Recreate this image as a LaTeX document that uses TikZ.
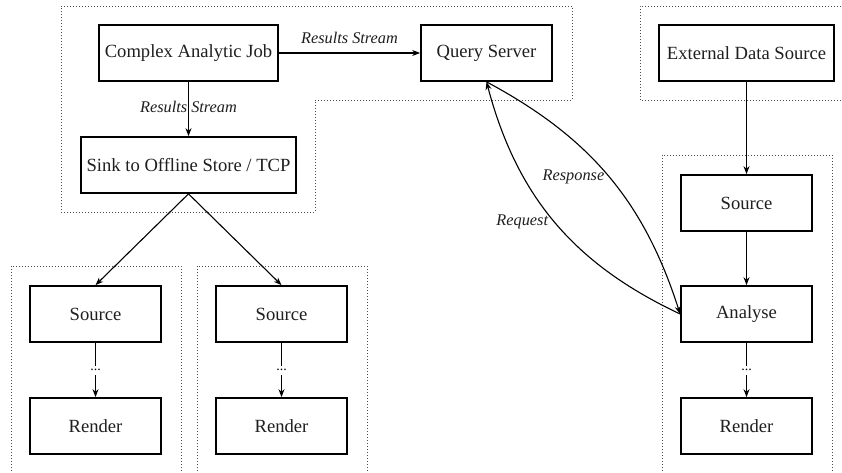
\documentclass[tikz,border=0pt]{standalone}
\usepackage{fontspec}
\setmainfont{Liberation Serif}
\newfontfamily\diagfont{Liberation Serif}
\usetikzlibrary{arrows.meta}
\begin{document}
\begin{tikzpicture}[x=1pt,y=-1pt,
  box/.style={draw=black, line width=1.7pt, fill=white, minimum height=56pt,
    minimum width=131pt, inner xsep=4pt, font=\diagfont\fontsize{18.6}{21}\selectfont, text=black!88},
  arr/.style={draw=black, line width=1.1pt, -{Stealth[length=8pt,width=6pt]}},
  lbl/.style={font=\diagfont\fontsize{16.3}{19}\selectfont\itshape, text=black!88, inner sep=2pt},
  dotsnode/.style={fill=white, font=\diagfont\fontsize{14}{16}\selectfont, inner xsep=1pt, inner ysep=0pt, minimum height=9pt},
  region/.style={draw=black!70, line width=0.7pt, dash pattern=on 0.7pt off 2.3pt}]
\useasboundingbox (0,0) rectangle (842,473);
\clip (0,0) rectangle (842,473);
\fill[white] (0,0) rectangle (842,473);

% regions
\draw[region] (61,6) -- (572,6) -- (572,100) -- (315,100) -- (315,212) -- (61,212) -- cycle;
\draw[region] (850,6) -- (640,6) -- (640,100) -- (850,100);
\draw[region] (11,480) -- (11,266) -- (181,266) -- (181,480);
\draw[region] (197,480) -- (197,266) -- (367,266) -- (367,480);
\draw[region] (662,480) -- (662,155) -- (832,155) -- (832,480);

% nodes
\node[box, minimum width=179pt] (job) at (188.5,53) {Complex Analytic Job};
\node[box, minimum width=215pt] (sink) at (188.5,165) {Sink to Offline Store / TCP};
\node[box] (qs) at (486.5,53) {Query Server};
\node[box, minimum width=175pt] (ext) at (746.5,53) {External Data Source};

\node[box] (srcA) at (95.5,314) {Source};
\node[box] (renA) at (95.5,426) {Render};
\node[box] (srcB) at (281.5,314) {Source};
\node[box] (renB) at (281.5,426) {Render};

\node[box] (srcC) at (746.5,203) {Source};
\node[box] (ana) at (746.5,314) {Analyse};
\node[box] (renC) at (746.5,426) {Render};

% connectors
\draw[arr] (job) -- node[lbl, above=7pt] {Results Stream} (qs);
\draw[arr] (job) -- node[lbl, pos=0.47] {Results Stream} (sink);
\draw[arr] (sink.south) -- (srcA.north);
\draw[arr] (sink.south) -- (srcB.north);
\draw[arr] (srcA) -- node[dotsnode] {...} (renA);
\draw[arr] (srcB) -- node[dotsnode] {...} (renB);
\draw[arr] (ext) -- (srcC);
\draw[arr] (srcC) -- (ana);
\draw[arr] (ana) -- node[dotsnode] {...} (renC);
\draw[arr] (ana.west) to[bend left=25] node[lbl, pos=0.5, anchor=east, xshift=-4pt] {Request} (qs.south);
\draw[arr] (qs.south) to[bend left=22] node[lbl, pos=0.5, anchor=east, xshift=-2pt] {Response} (ana.west);
\end{tikzpicture}
\end{document}
